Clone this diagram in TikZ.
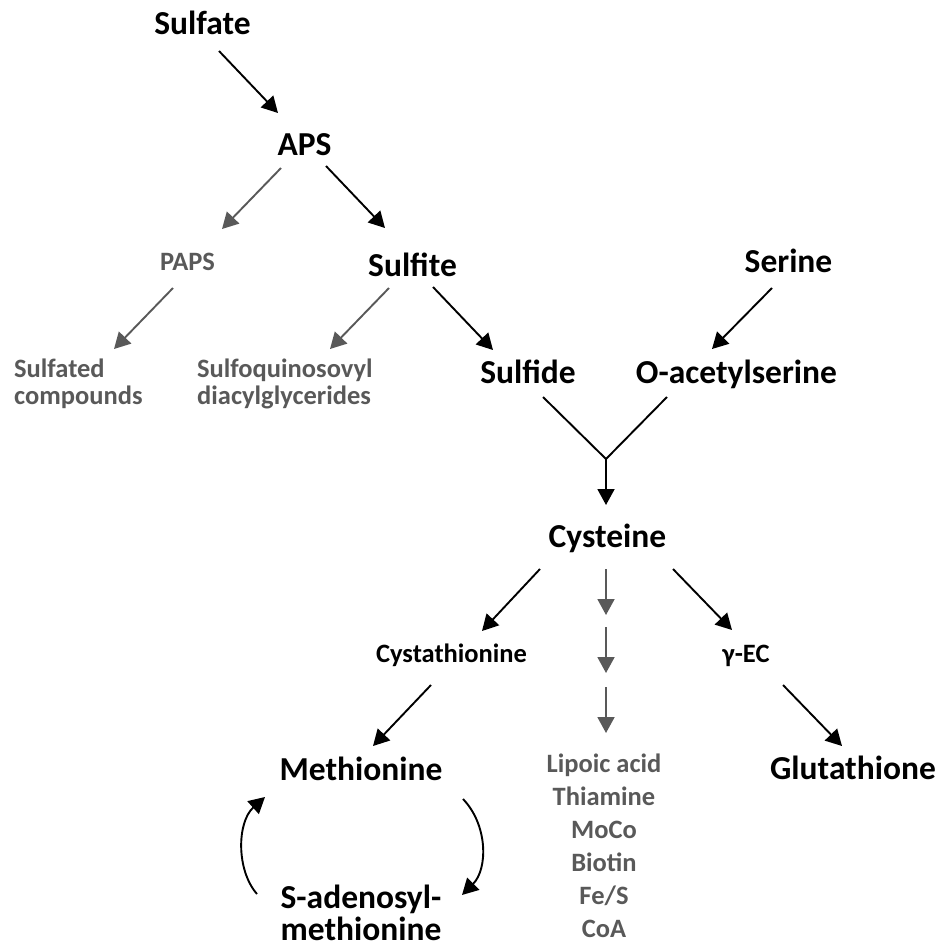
\documentclass[tikz,border=0pt]{standalone}
\usepackage{fontspec}
\setmainfont{Carlito}
\usetikzlibrary{arrows.meta}
\definecolor{txtgray}{HTML}{595959}
\begin{document}
\begin{tikzpicture}[x=1pt,y=-1pt,
  big/.style={font=\fontsize{33.5}{32}\selectfont\bfseries, anchor=base, inner sep=0pt, align=center},
  small/.style={font=\fontsize{26.5}{27}\selectfont\bfseries, anchor=base, inner sep=0pt},
  graytxt/.style={text=txtgray},
  arr/.style={line width=1.9pt, -{Triangle[length=16pt,width=17pt]}},
  garr/.style={arr, draw=txtgray, fill=txtgray},
  plain/.style={line width=1.9pt}
]
\useasboundingbox (0,0) rectangle (938,951);
% nodes
\node[big] (sulfate) at (202.5,34) {Sulfate};
\node[big] (aps) at (304.5,155) {APS};
\node[small,graytxt] (paps) at (187.5,270) {PAPS};
\node[big] (sulfite) at (412.5,276) {Sulfite};
\node[big] (serine) at (788.5,272) {Serine};
\node[small,graytxt,align=left,anchor=base west] (sulfated) at (14,404) {Sulfated\\compounds};
\node[small,graytxt,align=left,anchor=base west] (sqdg) at (197,404) {Sulfoquinosovyl\\diacylglycerides};
\node[big] (sulfide) at (528,383) {Sulfide};
\node[big] (oas) at (736.5,383) {O-acetylserine};
\node[big] (cys) at (607.5,547) {Cysteine};
\node[small] (cysta) at (451.5,662) {Cystathionine};
\node[small] (gec) at (746,662) {γ-EC};
\node[big] (met) at (361,780) {Methionine};
\node[big] (gsh) at (853,779) {Glutathione};
\node[big] (sam) at (361,940) {S-adenosyl-\\methionine};
\node[small,graytxt,align=center,font=\fontsize{26.5}{33}\selectfont\bfseries] (cof) at (604,937) {Lipoic acid\\Thiamine\\MoCo\\Biotin\\Fe/S\\CoA};
\coordinate (join) at (606,459);
% connectors
\draw[arr] ([shift={(16.5,17)}]sulfate.base) -- ([shift={(-26.5,-42)}]aps.base);
\draw[garr] ([shift={(-23.5,13)}]aps.base) -- ([shift={(34.5,-41)}]paps.base);
\draw[arr] ([shift={(21.5,11)}]aps.base) -- ([shift={(-27.5,-48)}]sulfite.base);
\draw[garr] ([shift={(-14.5,18)}]paps.base) -- ([shift={(100,-55)}]sulfated.base west);
\draw[garr] ([shift={(-23.5,12)}]sulfite.base) -- ([shift={(133,-55)}]sqdg.base west);
\draw[arr] ([shift={(20.5,11)}]sulfite.base) -- ([shift={(-35,-33)}]sulfide.base);
\draw[arr] ([shift={(-16.5,16)}]serine.base) -- ([shift={(-24.5,-34)}]oas.base);
\draw[plain] ([shift={(15,14)}]sulfide.base) -- (join);
\draw[plain] ([shift={(-69.5,14)}]oas.base) -- (join);
\draw[arr] (join) -- ([shift={(-1.5,-42)}]cys.base);
\draw[arr] ([shift={(-67.5,22)}]cys.base) -- ([shift={(30.5,-31)}]cysta.base);
\draw[arr] ([shift={(65.5,22)}]cys.base) -- ([shift={(-14,-32)}]gec.base);
\draw[garr] ([shift={(-1.5,22)}]cys.base) -- ++(0,46);
\draw[garr] ([shift={(-1.5,80)}]cys.base) -- ++(0,46);
\draw[garr] ([shift={(-1.5,140)}]cys.base) -- ++(0,46);
\draw[arr] ([shift={(-20.5,23)}]cysta.base) -- ([shift={(12,-34)}]met.base);
\draw[arr] ([shift={(37,23)}]gec.base) -- ([shift={(-11,-33)}]gsh.base);
\draw[arr] ([shift={(102,19)}]met.base) .. controls +(25,26) and +(26,-26) .. ([shift={(101,-45)}]sam.base);
\draw[arr] ([shift={(-104,-46)}]sam.base) .. controls +(-21,-24) and +(-28,25) .. ([shift={(-96,17)}]met.base);
\end{tikzpicture}
\end{document}
